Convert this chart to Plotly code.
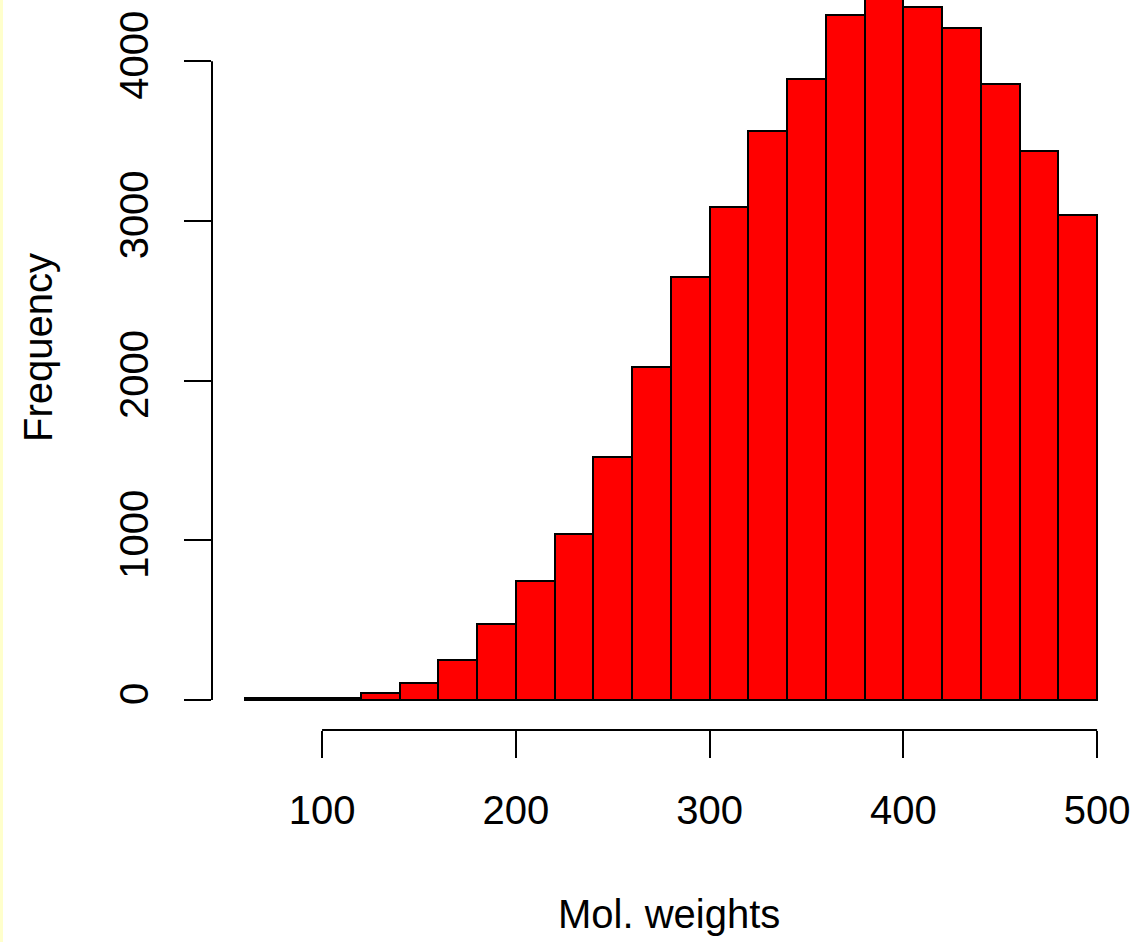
import plotly.graph_objects as go

# Histogram bins (Mol. weights) and counts
bin_left = [60, 80, 100, 120, 140, 160, 180, 200, 220, 240, 260,
            280, 300, 320, 340, 360, 380, 400, 420, 440, 460, 480]
bin_width = 20
counts = [10, 10, 14, 44, 105, 250, 476, 747, 1038, 1524, 2087,
          2651, 3085, 3565, 3889, 4289, 4480, 4341, 4208, 3855, 3438, 3037]

x_ticks = [100, 200, 300, 400, 500]
y_ticks = [0, 1000, 2000, 3000, 4000]
x_title = "Mol. weights"
y_title = "Frequency"

centers = [b + bin_width / 2 for b in bin_left]

FONT = "Liberation Sans, Arial, Helvetica, sans-serif"

fig = go.Figure(
    go.Bar(
        x=centers,
        y=counts,
        width=bin_width,
        marker=dict(color="#FF0000", line=dict(color="black", width=2)),
        hoverinfo="skip",
    )
)

axis_common = dict(
    showgrid=False,
    zeroline=False,
    showline=False,
    ticks="outside",
    ticklen=27,
    tickwidth=2,
    tickcolor="black",
    tickfont=dict(family=FONT, size=40, color="black"),
    fixedrange=True,
)

fig.update_layout(
    width=1135,
    height=942,
    margin=dict(l=212, r=4, t=0, b=212),
    paper_bgcolor="white",
    plot_bgcolor="white",
    showlegend=False,
    bargap=0,
    xaxis=dict(range=[43.2, 517.5], tickmode="array", tickvals=x_ticks,
               ticktext=[str(v) for v in x_ticks], ticklabelstandoff=18,
               **axis_common),
    yaxis=dict(range=[-188, 4383], tickmode="array", tickvals=y_ticks,
               ticktext=[str(v) for v in y_ticks], tickangle=-90,
               ticklabelstandoff=20, **axis_common),
    shapes=[
        # R-style axis lines spanning only the extreme ticks
        dict(type="line", xref="x", yref="paper", x0=min(x_ticks), x1=max(x_ticks),
             y0=0, y1=0, line=dict(color="black", width=2)),
        dict(type="line", xref="paper", yref="y", x0=0, x1=0,
             y0=min(y_ticks), y1=max(y_ticks), line=dict(color="black", width=2)),
        # pale yellow strip at the left edge of the picture
        dict(type="rect", xref="paper", yref="paper", x0=-212 / 919, x1=-209 / 919,
             y0=-212 / 730, y1=1.0, line=dict(width=0), fillcolor="#FFFFCC"),
    ],
    annotations=[
        dict(text=x_title, xref="paper", yref="paper", x=(669 - 212) / 919,
             y=(730 - 914) / 730, xanchor="center", yanchor="middle",
             showarrow=False, font=dict(family=FONT, size=40, color="black")),
        dict(text=y_title, xref="paper", yref="paper", x=(38 - 212) / 919,
             y=(730 - 348) / 730, xanchor="center", yanchor="middle",
             textangle=-90, showarrow=False,
             font=dict(family=FONT, size=40, color="black")),
    ],
)

fig.write_html(
    "out.html",
    config={"displayModeBar": False},
    post_script="document.body.style.margin='0';document.body.style.overflow='hidden';",
)
